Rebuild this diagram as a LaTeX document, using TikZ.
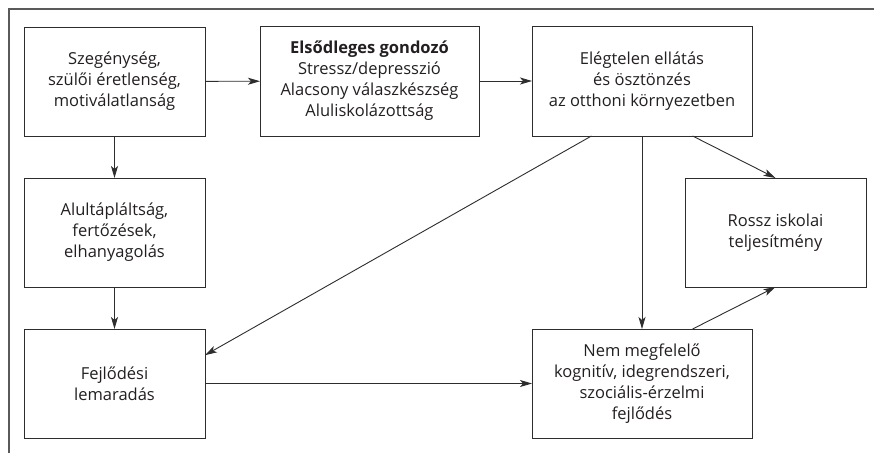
\documentclass[tikz,border=0pt]{standalone}
\usepackage{fontspec}
\setmainfont{Open Sans}
\usepackage{tikz}
\usetikzlibrary{calc}
\usetikzlibrary{arrows.meta}
\tikzset{>={Stealth[width=7pt,length=12pt,inset=3pt]}}
\definecolor{lineColor}{RGB}{45, 45, 45}
\definecolor{frameColor}{RGB}{90, 90, 90}
\definecolor{textColor}{RGB}{35, 31, 32}

\begin{document}
\begin{tikzpicture}[
    x = 1pt, y = -1pt,
    box/.style = {draw=lineColor, line width=0.9pt, align=center,
        text=textColor, inner sep=0pt, outer sep=0pt,
        font=\fontsize{16.5}{21}\selectfont},
    narrowbox/.style = {box, minimum width=181pt, minimum height=109pt},
    widebox/.style = {box, minimum width=220pt, minimum height=110pt},
    link/.style = {->, draw=lineColor, line width=0.9pt}
  ]
  \useasboundingbox (0,0) rectangle (874,453);
  \draw[frameColor, line width=1.3pt] (874,9) -- (9,9) -- (9,453);

  \node[narrowbox] (poverty) at (114.5,81.5) {Szegénység,\\ szülői éretlenség,\\ motiválatlanság};
  \node[widebox, minimum width=219pt] (carer) at (369.5,81) {\textbf{Elsődleges gondozó}\\ Stressz/depresszió\\ Alacsony válaszkészség\\ Aluliskolázottság};
  \node[widebox] (home) at (642,81) {Elégtelen ellátás\\ és ösztönzés\\ az otthoni környezetben};
  \node[narrowbox] (health) at (114.5,232.5) {Alultápláltság,\\ fertőzések,\\ elhanyagolás};
  \node[narrowbox] (delay) at (114.5,383.5) {Fejlődési\\ lemaradás};
  \node[widebox, minimum height=109pt] (develop) at (642,383.5) {Nem megfelelő\\ kognitív, idegrendszeri,\\ szociális-érzelmi\\ fejlődés};
  \node[narrowbox] (school) at (775.5,232.5) {Rossz iskolai\\ teljesítmény};

  \coordinate (homeL) at ($(home.south west)!0.27!(home.south east)$);
  \coordinate (homeR) at ($(home.south west)!0.73!(home.south east)$);
  \coordinate (delayR) at ($(delay.north east)!0.24!(delay.south east)$);
  \coordinate (developR) at ($(develop.north west)!0.73!(develop.north east)$);

  \draw[link] (poverty) -- (carer);
  \draw[link] (carer) -- (home);
  \draw[link] (poverty) -- (health);
  \draw[link] (health) -- (delay);
  \draw[link] (homeL) -- (delayR);
  \draw[link] (home.south) -- (develop.north);
  \draw[link] (homeR) -- (school.north);
  \draw[link] (delay.east) -- (delay.east -| develop.west);
  \draw[link] (developR) -- (school.south);
\end{tikzpicture}
\end{document}
